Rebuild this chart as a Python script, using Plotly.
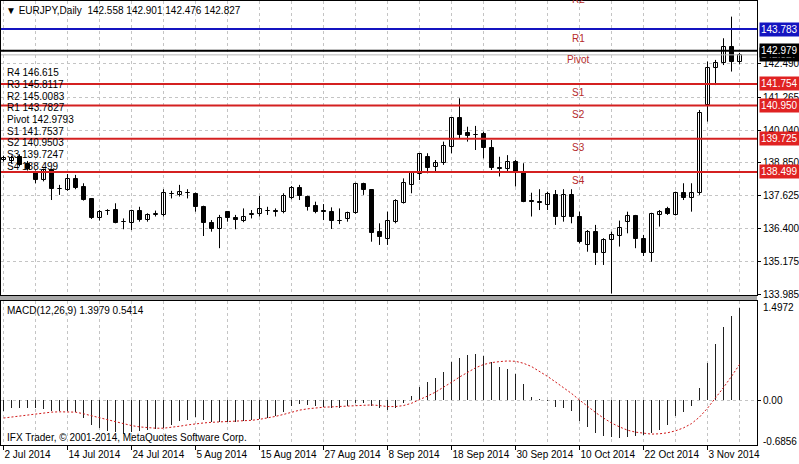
import plotly.graph_objects as go
from plotly.subplots import make_subplots

# ---------------- data ----------------
date_labels = ["2 Jul 2014", "14 Jul 2014", "24 Jul 2014", "5 Aug 2014", "15 Aug 2014",
               "27 Aug 2014", "8 Sep 2014", "18 Sep 2014", "30 Sep 2014", "10 Oct 2014",
               "22 Oct 2014", "3 Nov 2014"]
date_label_bars = [0, 8, 16, 24, 32, 40, 48, 56, 64, 72, 80, 88]

opens = [138.95, 138.90, 139.04, 138.78, 138.51, 138.20, 138.57, 137.88, 137.83, 138.23,
         137.93, 137.49, 136.78, 137.05, 137.09, 136.64, 136.62, 137.06, 136.72, 136.91,
         136.91, 137.69, 137.65, 137.72, 137.68, 137.21, 136.62, 136.38, 137.03, 136.78,
         136.69, 136.90, 136.94, 137.07, 137.04, 137.03, 137.52, 137.89, 137.59, 137.24,
         137.04, 137.03, 136.70, 136.75, 136.97, 138.04, 137.83, 136.26, 136.01, 136.66,
         137.36, 138.02, 138.41, 139.06, 138.67, 138.82, 139.43, 140.48, 139.95, 139.87,
         139.89, 139.37, 138.63, 138.60, 138.88, 138.51, 137.42, 137.37, 137.28, 137.65,
         136.82, 137.65, 136.85, 135.80, 136.26, 135.49, 136.00, 136.13, 136.66, 136.88,
         136.01, 135.52, 136.91, 137.12, 136.91, 137.73, 137.52, 137.71, 140.97, 142.33,
         142.54, 143.10, 142.558]
highs = [139.10, 139.10, 139.15, 138.90, 138.55, 138.62, 138.60, 138.02, 138.42, 138.39,
         138.08, 137.52, 137.09, 137.12, 137.34, 136.78, 137.10, 137.21, 136.97, 137.07,
         137.86, 137.80, 138.02, 137.86, 137.74, 137.25, 136.72, 136.91, 137.05, 136.91,
         137.15, 137.09, 137.61, 137.21, 137.15, 137.71, 137.98, 138.02, 137.62, 137.40,
         137.31, 137.19, 137.15, 137.03, 138.10, 138.10, 137.86, 136.60, 137.03, 137.49,
         138.26, 138.51, 139.19, 139.19, 138.94, 139.62, 140.52, 141.22, 140.17, 140.20,
         139.99, 139.68, 139.06, 139.12, 138.94, 138.82, 137.73, 137.86, 137.77, 137.83,
         137.86, 137.86, 137.03, 136.35, 136.54, 136.05, 136.29, 136.70, 137.03, 136.91,
         136.17, 136.99, 137.09, 137.21, 137.77, 138.08, 138.08, 140.79, 142.58, 142.64,
         143.44, 144.24, 142.901]
lows = [138.88, 138.80, 138.70, 138.55, 138.08, 138.15, 137.46, 137.65, 137.80, 137.86,
        137.44, 136.76, 136.70, 136.91, 136.60, 136.38, 136.35, 136.66, 136.66, 136.85,
        136.85, 137.52, 137.59, 137.52, 137.03, 136.13, 136.29, 135.68, 136.66, 136.38,
        136.64, 136.78, 136.85, 136.91, 136.85, 136.97, 137.49, 137.46, 137.07, 136.97,
        136.72, 136.39, 136.57, 136.66, 136.95, 137.65, 135.92, 135.80, 135.80, 136.60,
        137.33, 137.71, 138.20, 138.45, 138.51, 138.76, 139.19, 139.74, 139.62, 139.31,
        139.00, 138.57, 138.33, 138.51, 137.96, 137.38, 136.85, 137.09, 137.09, 136.54,
        136.66, 136.60, 135.86, 135.55, 135.06, 135.06, 134.00, 135.74, 136.23, 135.68,
        135.39, 135.18, 136.48, 136.91, 136.89, 137.46, 137.03, 137.65, 140.36, 141.71,
        142.45, 142.21, 142.476]
closes = [139.00, 139.02, 138.76, 138.62, 138.20, 138.57, 137.86, 137.86, 138.23, 137.89,
          137.46, 136.78, 137.03, 137.07, 136.62, 136.66, 137.06, 136.72, 136.91, 136.93,
          137.71, 137.68, 137.77, 137.71, 137.19, 136.60, 136.38, 136.78, 136.78, 136.74,
          136.85, 136.93, 137.12, 137.05, 137.03, 137.61, 137.89, 137.61, 137.21, 137.03,
          137.02, 136.69, 136.68, 136.97, 138.04, 137.83, 136.25, 136.08, 136.70, 137.43,
          138.08, 138.45, 139.15, 138.66, 138.84, 139.46, 140.48, 139.86, 139.83, 139.86,
          139.37, 138.63, 138.62, 138.88, 138.45, 137.40, 137.40, 137.36, 137.69, 136.85,
          137.65, 136.85, 135.92, 136.26, 135.49, 135.98, 136.16, 136.41, 136.87, 136.01,
          135.52, 136.93, 137.03, 136.93, 137.73, 137.52, 137.73, 140.67, 142.33, 142.54,
          143.10, 142.58, 142.827]

macd_main = [-0.175, -0.125, -0.125, -0.125, -0.125, -0.14, -0.165, -0.175, -0.175, -0.19,
             -0.275, -0.375, -0.425, -0.465, -0.49, -0.515, -0.49, -0.475, -0.46, -0.435,
             -0.425, -0.375, -0.325, -0.30, -0.26, -0.30, -0.34, -0.34, -0.335, -0.335,
             -0.325, -0.31, -0.29, -0.275, -0.24, -0.19, -0.09, -0.06, -0.08, -0.09,
             -0.10, -0.125, -0.125, -0.09, -0.05, -0.05, -0.09, -0.125, -0.15, -0.125,
             -0.05, 0.06, 0.20, 0.275, 0.34, 0.425, 0.575, 0.64, 0.685, 0.70,
             0.675, 0.575, 0.51, 0.475, 0.40, 0.24, 0.05, 0.004, -0.01, -0.11,
             -0.125, -0.175, -0.325, -0.41, -0.50, -0.55, -0.56, -0.575, -0.56, -0.55,
             -0.54, -0.50, -0.45, -0.375, -0.25, -0.18, -0.09, 0.18, 0.56, 0.86,
             1.11, 1.28, 1.3979]
macd_signal = [-0.275, -0.26, -0.24, -0.225, -0.21, -0.195, -0.185, -0.18, -0.18, -0.185,
               -0.21, -0.24, -0.27, -0.30, -0.335, -0.365, -0.39, -0.41, -0.425, -0.43,
               -0.43, -0.42, -0.40, -0.38, -0.36, -0.35, -0.34, -0.335, -0.33, -0.325,
               -0.32, -0.31, -0.295, -0.275, -0.25, -0.22, -0.185, -0.155, -0.135, -0.12,
               -0.11, -0.105, -0.10, -0.095, -0.085, -0.075, -0.075, -0.085, -0.10, -0.10,
               -0.085, -0.05, 0.0, 0.06, 0.12, 0.19, 0.27, 0.35, 0.425, 0.49,
               0.54, 0.57, 0.585, 0.595, 0.59, 0.56, 0.51, 0.44, 0.36, 0.275,
               0.19, 0.10, 0.0, -0.10, -0.19, -0.275, -0.35, -0.41, -0.46, -0.49,
               -0.51, -0.52, -0.515, -0.50, -0.47, -0.425, -0.36, -0.26, -0.125, 0.025,
               0.19, 0.36, 0.5414]

price_ticks = [133.985, 135.175, 136.400, 137.625, 138.850, 140.040, 141.265, 142.490]

pivot_names = ["R4", "R3", "R2", "R1", "Pivot", "S1", "S2", "S3", "S4"]
pivot_values = [146.615, 145.8117, 145.0083, 143.7827, 142.9793, 141.7537, 140.9503, 139.7247, 138.499]
pivot_value_text = ["146.615", "145.8117", "145.0083", "143.7827", "142.9793", "141.7537",
                    "140.9503", "139.7247", "138.499"]
bid_price = 142.827

macd_max_label = 1.4972
macd_min_label = -0.6856

# ---------------- layout geometry helpers ----------------
W, H = 799, 464
PL, PR, PT, PB = 1, 757, 1, 445          # plot area in pixels


def py(y):
    return (PB - y) / (PB - PT)


def px(x):
    return (x - PL) / (PR - PL)


FONT = "Liberation Sans, Arial, sans-serif"
GRID = "#c4c4c4"
RED = "#d42020"
BLUE = "#1414c0"

n = len(closes)
bars = list(range(n))

fig = make_subplots(rows=2, cols=1, shared_xaxes=True)

# wicks
wx, wy = [], []
for i, (h, l) in enumerate(zip(highs, lows)):
    wx += [i, i, None]
    wy += [l, h, None]
fig.add_trace(go.Scatter(x=wx, y=wy, mode="lines", line=dict(color="black", width=1),
                         hoverinfo="skip"), row=1, col=1)

# bodies
body_base = [min(o, c) for o, c in zip(opens, closes)]
body_h = [max(abs(c - o), 0.012) for o, c in zip(opens, closes)]
body_col = ["white" if c >= o else "black" for o, c in zip(opens, closes)]
fig.add_trace(go.Bar(x=bars, y=body_h, base=body_base, width=0.5,
                     marker=dict(color=body_col, line=dict(color="black", width=1))),
              row=1, col=1)

# MACD
fig.add_trace(go.Bar(x=bars, y=macd_main, width=0.125,
                     marker=dict(color="#202020", line=dict(width=0))), row=2, col=1)
fig.add_trace(go.Scatter(x=bars, y=macd_signal, mode="lines",
                         line=dict(color="#d01818", width=1, dash="2px,2px")), row=2, col=1)

xr = [-0.3125, -0.3125 + (PR - PL) / 8.0]
y_top = 144.855 - 0.036969 * PT
y_bot = 144.855 - 0.036969 * 295
main_dom = [py(295), 1]
macd_dom = [0, py(301)]

common_x = dict(range=xr, showline=True, mirror=True, linecolor="black", linewidth=1,
                zeroline=False, showgrid=True, gridcolor=GRID, griddash="3px,3px",
                minor=dict(tickmode="linear", tick0=0, dtick=4, showgrid=True,
                           gridcolor=GRID, griddash="3px,3px"),
                tickmode="array", tickvals=date_label_bars)

fig.update_layout(
    width=W, height=H,
    margin=dict(l=PL, r=W - PR, t=PT, b=H - PB, autoexpand=False),
    paper_bgcolor="white", plot_bgcolor="white",
    showlegend=False, bargap=0,
    font=dict(family=FONT, size=10, color="black"),
    xaxis=dict(**common_x, showticklabels=False, ticks=""),
    xaxis2=dict(**common_x, ticktext=date_labels, ticks="outside", ticklen=4,
                tickcolor="black", ticklabelposition="outside right", tickangle=0,
                tickfont=dict(size=10, family=FONT)),
    yaxis=dict(domain=main_dom, range=[y_bot, y_top], side="right", tickmode="array",
               tickvals=price_ticks, ticktext=[f"{v:.3f}" for v in price_ticks],
               ticks="outside", ticklen=3, tickcolor="black", showgrid=True, gridcolor=GRID,
               griddash="3px,3px", showline=True, mirror=True, linecolor="black",
               zeroline=False, tickfont=dict(size=10, family=FONT)),
    yaxis2=dict(domain=macd_dom, range=[-0.686, 1.509], side="right", tickmode="array",
                tickvals=[0], ticktext=["0.00"], ticks="outside", ticklen=3, tickcolor="black",
                showgrid=True, gridcolor=GRID, griddash="3px,3px", showline=True, mirror=True,
                linecolor="black", zeroline=False, tickfont=dict(size=10, family=FONT)),
)

shapes = []
# separator between panes
shapes.append(dict(type="rect", xref="paper", yref="paper", x0=px(0), x1=1,
                   y0=py(300), y1=py(296), fillcolor="#a8a8a8", line=dict(width=0)))
# pivot level lines (only those inside the visible range)
level_color = {"R1": BLUE, "Pivot": "black", "S1": RED, "S2": RED, "S3": RED, "S4": RED}
for name, val in zip(pivot_names, pivot_values):
    if name in level_color:
        shapes.append(dict(type="line", xref="x domain", yref="y", x0=0, x1=1, y0=val, y1=val,
                           line=dict(color=level_color[name], width=2)))
# bid line
shapes.append(dict(type="line", xref="x domain", yref="y", x0=0, x1=1, y0=bid_price,
                   y1=bid_price, line=dict(color="#b8b8b8", width=1)))
fig.update_layout(shapes=shapes)

ann = []
# header
ann.append(dict(xref="paper", yref="paper", x=px(4), y=py(10), xanchor="left", yanchor="middle",
                text="▼ EURJPY,Daily  142.558 142.901 142.476 142.827", showarrow=False,
                font=dict(size=10, family=FONT)))
# left pivot block
for k, (name, vt) in enumerate(zip(pivot_names, pivot_value_text)):
    ann.append(dict(xref="paper", yref="paper", x=px(5), y=py(72.5 + 11.75 * k),
                    xanchor="left", yanchor="middle", text=f"{name} {vt}", showarrow=False,
                    font=dict(size=10, family=FONT)))
# level names on chart
for name, val in zip(pivot_names, pivot_values):
    if name in level_color:
        ann.append(dict(xref="paper", yref="y", x=px(578), y=val, yshift=-9,
                        xanchor="center", yanchor="middle", text=name, showarrow=False,
                        font=dict(size=10, family=FONT, color="#b52a2a")))
ann.append(dict(xref="paper", yref="paper", x=px(578), y=py(0), xanchor="center",
                yanchor="middle", text="R2", showarrow=False,
                font=dict(size=10, family=FONT, color="#b52a2a")))
# coloured price boxes on the right axis
boxes = [(bid_price, "142.827", "black"), (pivot_values[3], "143.783", BLUE),
         (pivot_values[4], "142.979", "black"), (pivot_values[5], "141.754", "#e02222"),
         (pivot_values[6], "140.950", "#e02222"), (pivot_values[7], "139.725", "#e02222"),
         (pivot_values[8], "138.499", "#e02222")]
for val, txt, col in boxes:
    ann.append(dict(xref="paper", yref="y", x=1, xshift=2, y=val, xanchor="left",
                    yanchor="middle", text=txt, showarrow=False, bgcolor=col, borderpad=1,
                    font=dict(size=10, family=FONT, color="white")))
# MACD labels
ann.append(dict(xref="paper", yref="paper", x=px(5), y=py(310), xanchor="left",
                yanchor="middle", text="MACD(12,26,9) 1.3979 0.5414", showarrow=False,
                font=dict(size=10, family=FONT)))
ann.append(dict(xref="paper", yref="paper", x=1, xshift=4, y=py(307), xanchor="left",
                yanchor="middle", text=f"{macd_max_label:.4f}", showarrow=False,
                font=dict(size=10, family=FONT)))
ann.append(dict(xref="paper", yref="paper", x=1, xshift=4, y=py(441), xanchor="left",
                yanchor="middle", text=f"{macd_min_label:.4f}", showarrow=False,
                font=dict(size=10, family=FONT)))
ann.append(dict(xref="paper", yref="paper", x=px(5), y=py(437), xanchor="left",
                yanchor="middle", text="IFX Trader, © 2001-2014, MetaQuotes Software Corp.",
                showarrow=False, font=dict(size=10, family=FONT)))
fig.update_layout(annotations=ann)

fig.write_html("out.html", config={"displayModeBar": False},
               post_script="document.body.style.margin='0px';document.body.style.overflow='hidden';")
